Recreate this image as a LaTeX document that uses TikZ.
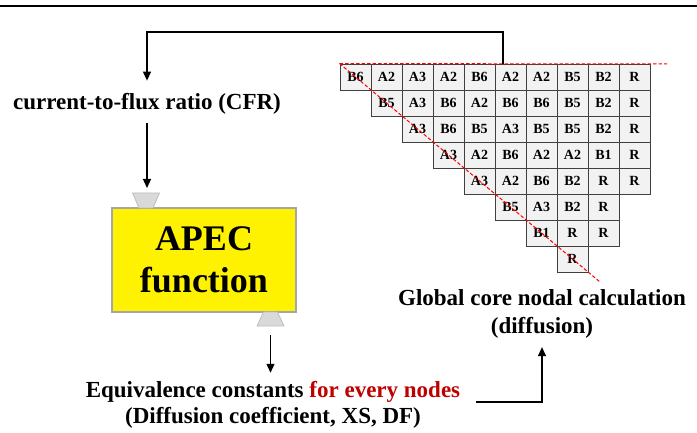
\documentclass[tikz,border=0pt]{standalone}
\usepackage{fontspec}
\setmainfont{Liberation Serif}
\usetikzlibrary{arrows.meta}
\definecolor{cellfill}{HTML}{F2F2F2}
\definecolor{cellline}{HTML}{404040}
\definecolor{darkred}{HTML}{C00000}
\definecolor{portfill}{HTML}{D9D9D9}
\definecolor{portline}{HTML}{BFBFBF}
\definecolor{boxline}{HTML}{A6A6A6}
\tikzset{
  cell/.style={rectangle, draw=cellline, fill=cellfill, line width=0.9pt,
    minimum width=31pt, minimum height=26pt, inner sep=0pt,
    font=\fontsize{14}{16}\selectfont\bfseries},
  label/.style={inner sep=0pt, align=center, font=\fontsize{23}{26}\selectfont\bfseries},
  port/.style={draw=portline, fill=portfill, line width=0.8pt, line join=round},
  flow/.style={draw=black, line width=1.2pt, -{Triangle[length=9pt,width=8pt]}},
  cut/.style={draw=red, dashed, dash pattern=on 3.5pt off 2pt, line width=1pt}
}
\begin{document}
\begin{tikzpicture}[x=1pt,y=-1pt]
\useasboundingbox (0,0) rectangle (697,433);
% header rule
\draw[line width=1.4pt] (0,6) -- (697,6);

% core loading map (one-eighth core)
\foreach \r/\c/\t in {
  0/0/B6,0/1/A2,0/2/A3,0/3/A2,0/4/B6,0/5/A2,0/6/A2,0/7/B5,0/8/B2,0/9/R,
  1/1/B5,1/2/A3,1/3/B6,1/4/A2,1/5/B6,1/6/B6,1/7/B5,1/8/B2,1/9/R,
  2/2/A3,2/3/B6,2/4/B5,2/5/A3,2/6/B5,2/7/B5,2/8/B2,2/9/R,
  3/3/A3,3/4/A2,3/5/B6,3/6/A2,3/7/A2,3/8/B1,3/9/R,
  4/4/A3,4/5/A2,4/6/B6,4/7/B2,4/8/R,4/9/R,
  5/5/B5,5/6/A3,5/7/B2,5/8/R,
  6/6/B1,6/7/R,6/8/R,
  7/7/R}
  \node[cell] (c-\r-\c) at ({340+31*\c+15.5},{64+26*\r+13}) {\t};

% symmetry lines
\coordinate (symE) at (667,64);
\coordinate (symD) at (600,282);
\draw[cut] (c-0-0.north west) -- (symE);
\draw[cut] (c-0-0.north west) -- (symD);

% APEC block with its ports
\node[rectangle, draw=boxline, fill=yellow, line width=1.5pt,
  minimum width=184pt, minimum height=104pt, inner sep=0pt, align=center,
  font=\fontsize{36}{42}\selectfont\bfseries] (apec) at (204,260) {APEC\\function};
\coordinate (inport) at (146,193);
\coordinate (outport) at (270.5,326);
\draw[port] (132.5,193) -- (159.5,193) -- (153,208) -- (139,208) -- cycle;
\draw[port] (263.5,312) -- (277.5,312) -- (284,326) -- (257,326) -- cycle;

% labels
\node[label, anchor=base] (cfr) at (147,110) {current-to-flux ratio (CFR)};
\node[label] (eq) at (273,404.5)
  {Equivalence constants \textcolor{darkred}{for every nodes}\\(Diffusion coefficient, XS, DF)};
\node[label, font=\fontsize{23}{28}\selectfont\bfseries] (glob) at (542,313.5)
  {Global core nodal calculation\\(diffusion)};

% data flow
\coordinate (fbstart) at (503,64);
\coordinate (fbcorner) at (147,32);
\draw[flow, shorten >=13pt] (fbstart) |- (fbcorner) -- (cfr.north);
\draw[flow, shorten <=8pt, shorten >=5pt] (cfr.south) -- (cfr.south |- inport);
\draw[flow, shorten <=9pt, shorten >=8pt] (outport) -- (eq.north -| outport);
\coordinate (eqout) at (476,402);
\draw[flow, shorten >=9pt] (eqout) -| (glob.south);
\end{tikzpicture}
\end{document}
